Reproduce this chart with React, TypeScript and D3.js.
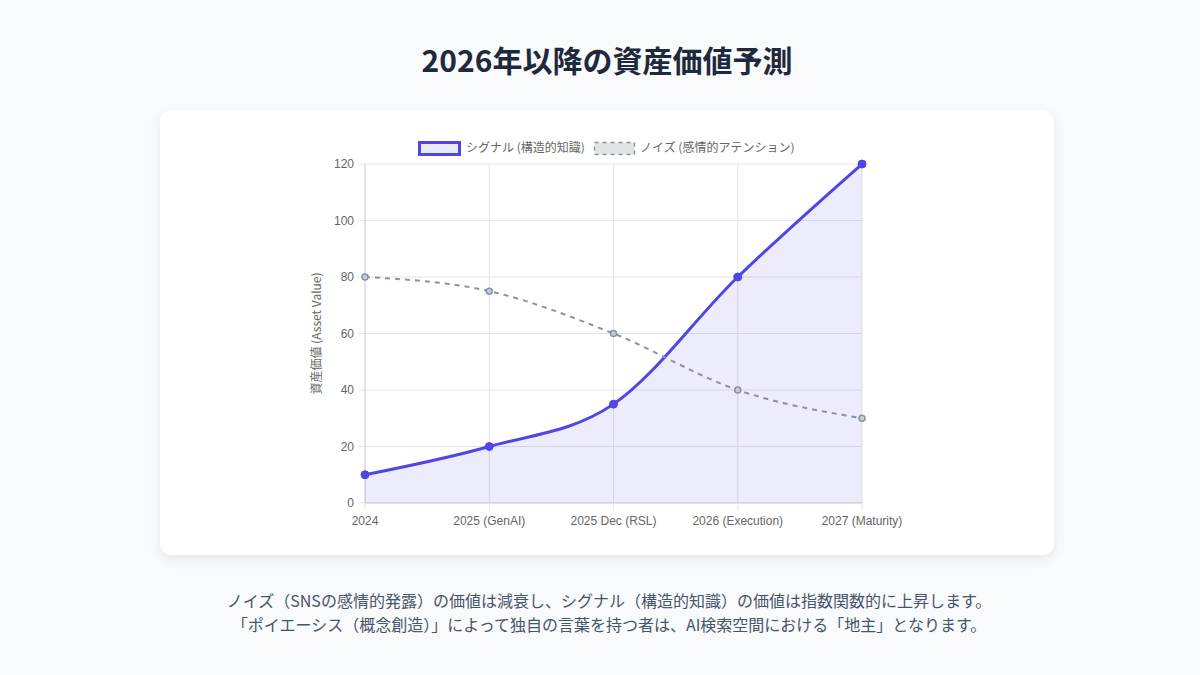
import * as d3 from "d3"

const categories = ["2024", "2025 (GenAI)", "2025 Dec (RSL)", "2026 (Execution)", "2027 (Maturity)"]
const signalValues = [10, 20, 35, 80, 120]
const noiseValues = [80, 75, 60, 40, 30]
const yTicks = [0, 20, 40, 60, 80, 100, 120]
const signalLabel = "シグナル (構造的知識)"
const noiseLabel = "ノイズ (感情的アテンション)"

const W = 1200
const H = 675
const plot = { left: 365, right: 862, top: 164, bottom: 503 }
const axisFont = "'Liberation Sans', Arial, sans-serif"
const jpFont = "'Noto Sans CJK JP', 'Noto Sans', sans-serif"

export default function App() {
  const x = d3.scalePoint<string>().domain(categories).range([plot.left, plot.right])
  const y = d3.scaleLinear().domain([0, 120]).range([plot.bottom, plot.top])

  const line = d3
    .line<number>()
    .x((_, i) => x(categories[i])!)
    .y((d) => y(d))
    .curve(d3.curveMonotoneX)

  const area = d3
    .area<number>()
    .x((_, i) => x(categories[i])!)
    .y0(y(0))
    .y1((d) => y(d))
    .curve(d3.curveMonotoneX)

  return (
    <svg width={W} height={H} style={{ position: "absolute", left: 0, top: 0 }}>
      <defs>
        <filter id="shadow" x="-10%" y="-10%" width="120%" height="130%">
          <feDropShadow dx="0" dy="4" stdDeviation="6" floodColor="#0f172a" floodOpacity="0.08" />
        </filter>
      </defs>
      <rect width={W} height={H} fill="#f8fafc" />
      <text x={607} y={72} textAnchor="middle" fontFamily={jpFont} fontSize={30} fontWeight={700} fill="#1e293b">
        2026年以降の資産価値予測
      </text>

      {/* card */}
      <rect x={160} y={110} width={894} height={445} rx={12} fill="#ffffff" filter="url(#shadow)" />

      {/* grid */}
      {yTicks.map((t) => (
        <g key={t}>
          <line x1={plot.left - 7} x2={plot.right} y1={y(t)} y2={y(t)} stroke="#e5e5e5" />
          <text x={plot.left - 11} y={y(t) + 4} textAnchor="end" fontFamily={axisFont} fontSize={12} fill="#666">
            {t}
          </text>
        </g>
      ))}
      {categories.map((c) => (
        <g key={c}>
          <line x1={x(c)} x2={x(c)} y1={plot.top} y2={plot.bottom + 7} stroke="#e5e5e5" />
          <text x={x(c)} y={plot.bottom + 22} textAnchor="middle" fontFamily={axisFont} fontSize={12} fill="#666">
            {c}
          </text>
        </g>
      ))}
      <line x1={plot.left} x2={plot.left} y1={plot.top} y2={plot.bottom} stroke="#d4d4d4" />
      <line x1={plot.left} x2={plot.right} y1={plot.bottom} y2={plot.bottom} stroke="#d4d4d4" />

      <text
        transform={`translate(321, ${(plot.top + plot.bottom) / 2}) rotate(-90)`}
        textAnchor="middle"
        fontFamily={jpFont}
        fontSize={12}
        fill="#666"
      >
        資産価値 (Asset Value)
      </text>

      {/* signal */}
      <path d={area(signalValues) ?? ""} fill="rgba(79,70,229,0.1)" />
      <path d={line(signalValues) ?? ""} fill="none" stroke="#4f46e5" strokeWidth={3} />
      {signalValues.map((v, i) => (
        <circle key={i} cx={x(categories[i])} cy={y(v)} r={4} fill="#4f46e5" stroke="#4f46e5" />
      ))}

      {/* noise */}
      <path
        d={line(noiseValues) ?? ""}
        fill="none"
        stroke="#8893a8"
        strokeWidth={2}
        strokeDasharray="5 5"
      />
      {noiseValues.map((v, i) => (
        <circle key={i} cx={x(categories[i])} cy={y(v)} r={3} fill="#c7cdd6" stroke="#8893a8" strokeWidth={1.5} />
      ))}

      {/* legend */}
      <rect x={419.5} y={142.5} width={40} height={12} fill="#e9e8fc" stroke="#4f46e5" strokeWidth={3} />
      <text x={466} y={152} fontFamily={jpFont} fontSize={12} fill="#666">
        {signalLabel}
      </text>
      <rect x={594.5} y={142.5} width={40} height={12} fill="#e2e4e8" stroke="#8893a8" strokeWidth={1.5} strokeDasharray="4 4" />
      <text x={640} y={152} fontFamily={jpFont} fontSize={12} fill="#666">
        {noiseLabel}
      </text>

      {/* description */}
      <text x={609} y={607} textAnchor="middle" fontFamily={jpFont} fontSize={16} fill="#475569">
        ノイズ（SNSの感情的発露）の価値は減衰し、シグナル（構造的知識）の価値は指数関数的に上昇します。
      </text>
      <text x={609} y={631} textAnchor="middle" fontFamily={jpFont} fontSize={16} fill="#475569">
        「ポイエーシス（概念創造）」によって独自の言葉を持つ者は、AI検索空間における「地主」となります。
      </text>
    </svg>
  )
}
